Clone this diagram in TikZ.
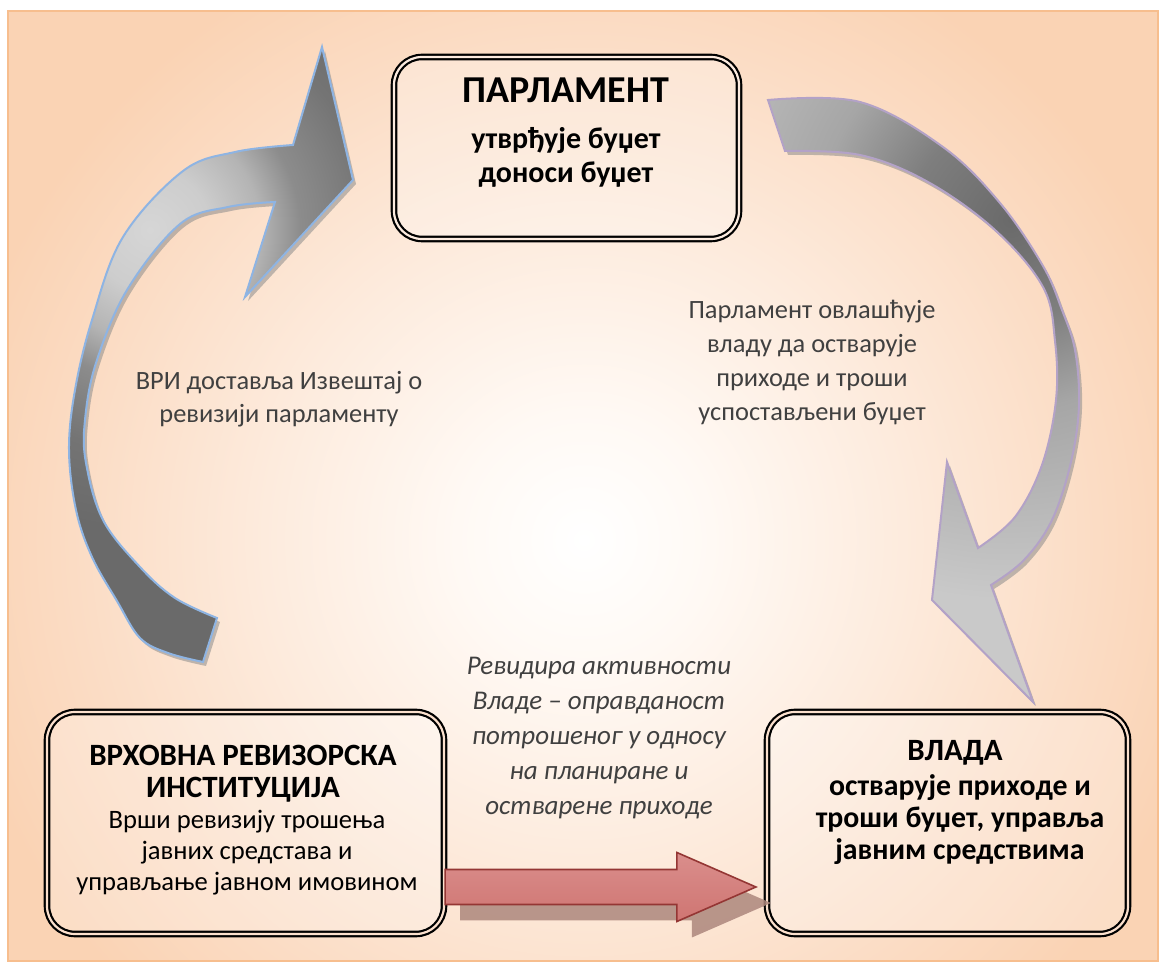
\documentclass[tikz,border=0pt]{standalone}
\usepackage{fontspec}
\setmainfont{Carlito}
\usetikzlibrary{calc}

% palette
\definecolor{bgB}{HTML}{FFF9F4}
\definecolor{bgC}{HTML}{FDEBDD}
\definecolor{bgD}{HTML}{FBDCC4}
\definecolor{bgE}{HTML}{FAD3B4}
\definecolor{framecol}{HTML}{F7BE8E}
\definecolor{lgA}{HTML}{D6D6D6}
\definecolor{lgB}{HTML}{CDCDCD}
\definecolor{lgC}{HTML}{B4B4B4}
\definecolor{lgD}{HTML}{8C8C8C}
\definecolor{lgE}{HTML}{747474}
\definecolor{lgF}{HTML}{6A6A6A}
\definecolor{rgA}{HTML}{6A6A6A}
\definecolor{rgB}{HTML}{7E7E7E}
\definecolor{rgC}{HTML}{A6A6A6}
\definecolor{rgD}{HTML}{C9C9C9}
\definecolor{blueedge}{HTML}{8EB4E3}
\definecolor{lilacedge}{HTML}{B3A2C7}
\definecolor{arrowshadow}{HTML}{8C8C8C}
\definecolor{redtop}{HTML}{DA8E8C}
\definecolor{redmid}{HTML}{C0504D}
\definecolor{redbot}{HTML}{CF7572}
\definecolor{rededge}{HTML}{943634}
\definecolor{redshadow}{HTML}{AD877D}
\definecolor{labelgray}{HTML}{404040}
\definecolor{gapA}{HTML}{FCEBDF}
\definecolor{gapB}{HTML}{FBE0CD}

% shadings (25bp = radius of the shaded circle)
\pgfdeclareradialshading{bgshade}{\pgfpoint{0bp}{0bp}}{color(0bp)=(white); color(4bp)=(bgB); color(10bp)=(bgC); color(16bp)=(bgD); color(20bp)=(bgE); color(50bp)=(bgE)}
\pgfdeclareradialshading{lgray}{\pgfpoint{0bp}{0bp}}{color(0bp)=(lgA); color(2.5bp)=(lgB); color(4.6bp)=(lgC); color(6.25bp)=(lgD); color(9.2bp)=(lgE); color(12.5bp)=(lgF); color(50bp)=(lgF)}
\pgfdeclareradialshading{rgray}{\pgfpoint{0bp}{0bp}}{color(0bp)=(rgA); color(5bp)=(rgB); color(9.5bp)=(rgC); color(19bp)=(rgD); color(50bp)=(rgD)}

% curved block arrows (outline in pixel units)
\newcommand{\arrowLshape}{(245,297) -- (275,202) -- plot[smooth,tension=0.6] coordinates {(275,202) (228,207) (180,224) (127,290) (96,363) (85,420) (86,463) (103,520) (140,567) (175,598) (217,618)} -- (203,662) -- plot[smooth,tension=0.6] coordinates {(203,662) (168,653) (140,638) (117,601) (92,557) (76,510) (69,450) (75,390) (92,320) (123,237) (183,171) (235,152) (293,145)} -- (322,47) -- (353,180) -- cycle}
\newcommand{\arrowRshape}{(932,600) -- (947,462) -- (978,548) -- plot[smooth,tension=0.6] coordinates {(978,548) (1015,517) (1042,465) (1056,400) (1055,341) (1043,287) (995,230) (928,182) (860,155) (785,151)} -- (768,100) -- plot[smooth,tension=0.6] coordinates {(768,100) (860,102) (943,147) (1000,203) (1043,266) (1062,310) (1075,350) (1079,405) (1071,462) (1052,520) (1024,560) (991,585)} -- (1033,702) -- cycle}

\tikzset{
  box/.style={draw=black, line width=1.1pt, double=#1, double distance=1.1pt,
    rounded corners=14pt, fill=white, fill opacity=0.25, inner sep=0pt},
  ttl/.style={font=\fontsize{19}{22}\selectfont\bfseries, inner sep=0pt},
  subb/.style={font=\fontsize{15}{17}\selectfont\bfseries, align=center, inner sep=0pt},
  hdb/.style={font=\fontsize{15.5}{15.8}\selectfont\bfseries, align=center, inner sep=0pt},
  bodyr/.style={font=\fontsize{13.3}{15.5}\selectfont, align=center, inner sep=0pt},
  bodyb/.style={font=\fontsize{14.9}{16}\selectfont\bfseries, align=center, inner sep=0pt},
  lbl/.style={font=\fontsize{13.2}{16.5}\selectfont, text=labelgray, align=center, inner sep=0pt},
  rlbl/.style={font=\fontsize{13.2}{17}\selectfont, text=labelgray, align=center, inner sep=0pt},
  ilbl/.style={font=\fontsize{13.5}{17.5}\selectfont\itshape, text=labelgray, align=center, inner sep=0pt},
  arrshadow/.style={fill=arrowshadow, fill opacity=0.55},
}

\begin{document}
\begin{tikzpicture}[x=0.5pt, y=-0.5pt]
\useasboundingbox (0,0) rectangle (1164,967);
\fill[white] (0,0) rectangle (1164,967);

% page background with soft radial glow
\path[path picture={\shade[shading=bgshade] (584,540) circle[radius=400pt];}]
  (8,11) rectangle (1158,961);
\draw[framecol, line width=1pt] (8,11) rectangle (1158,961);

% left curved arrow (report back to parliament)
\begin{scope}[shift={(3,4)}]
  \fill[arrshadow] \arrowLshape;
\end{scope}
\path[draw=blueedge, line width=1pt,
  path picture={\shade[shading=lgray] (150,230) circle[radius=300pt];}] \arrowLshape;

% right curved arrow (authorisation to government)
\begin{scope}[shift={(3,4)}]
  \fill[arrshadow] \arrowRshape;
\end{scope}
\path[draw=lilacedge, line width=1pt,
  path picture={\shade[shading=rgray] (1010,220) circle[radius=250pt];}] \arrowRshape;

% boxes
\node[box=gapA, minimum width=172.5pt, minimum height=91pt] (parl) at (566.5,148) {};
\node[box=gapB, minimum width=198.5pt, minimum height=111pt] (vri) at (245.5,823) {};
\node[box=gapB, minimum width=180.5pt, minimum height=111pt] (vlada) at (947.5,823) {};

% box texts
\node[ttl, anchor=base] (parlname) at (566,103) {ПАРЛАМЕНТ};
\node[subb] (parltxt) at (566,157) {утврђује буџет\\доноси буџет};
\node[hdb] (vrihead) at (243,774) {ВРХОВНА РЕВИЗОРСКА\\ИНСТИТУЦИЈА};
\node[bodyr] (vritxt) at (247,853) {Врши ревизију трошења\\јавних средстава и\\управљање јавном имовином};
\node[hdb, anchor=base] (vladahead) at (955,761) {ВЛАДА};
\node[bodyb] (vladatxt) at (960,820) {остварује приходе и\\троши буџет, управља\\јавним средствима};

% free labels
\node[lbl] (leftlbl) at (279,399) {ВРИ доставља Извештај о\\ревизији парламенту};
\node[rlbl] (rightlbl) at (812,363) {Парламент овлашћује\\владу да остварује\\приходе и троши\\успостављени буџет};
\node[ilbl] (auditlbl) at (599,738) {Ревидира активности\\Владе – оправданост\\потрошеног у односу\\на планиране и\\остварене приходе};

% straight block arrow from the audit institution to the government
\coordinate (rs) at (vri.east |- 0,887);
\coordinate (rt) at ([xshift=-5pt]vlada.west |- 0,887);
\fill[redshadow, fill opacity=0.85] ($(rs)+(15,-1.5)$) -- ($(rt)+(-64,-1.5)$) -- ($(rt)+(-64,-18.5)$) -- ($(rt)+(15,16)$) -- ($(rt)+(-64,50.5)$) -- ($(rt)+(-64,33.5)$) -- ($(rs)+(15,33.5)$) -- cycle;
\path[draw=rededge, line width=0.8pt, top color=redtop, middle color=redmid, bottom color=redbot]
  ($(rs)+(0,-17.5)$) -- ($(rt)+(-79,-17.5)$) -- ($(rt)+(-79,-34.5)$) -- (rt)
  -- ($(rt)+(-79,34.5)$) -- ($(rt)+(-79,17.5)$) -- ($(rs)+(0,17.5)$) -- cycle;
\end{tikzpicture}
\end{document}
